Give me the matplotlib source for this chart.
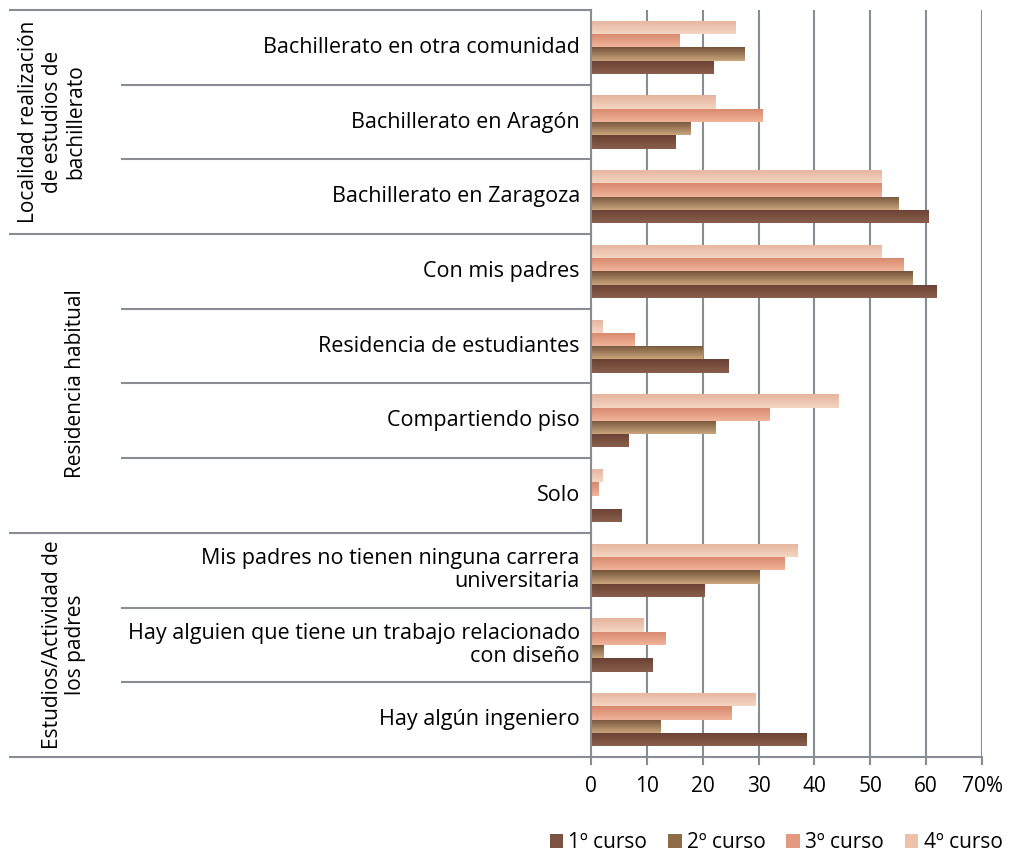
import numpy as np
import matplotlib
matplotlib.use("Agg")
import matplotlib.pyplot as plt
import matplotlib.colors as mcolors
import matplotlib.transforms as mtransforms
from matplotlib.patches import Patch

plt.rcParams['font.family'] = ['Open Sans', 'DejaVu Sans']

# --- Data ---
categories = [
    "Bachillerato en otra comunidad",
    "Bachillerato en Aragón",
    "Bachillerato en Zaragoza",
    "Con mis padres",
    "Residencia de estudiantes",
    "Compartiendo piso",
    "Solo",
    "Mis padres no tienen ninguna carrera\nuniversitaria",
    "Hay alguien que tiene un trabajo relacionado\ncon diseño",
    "Hay algún ingeniero",
]
groups = [
    "Localidad realización\nde estudios de\nbachillerato",
    "Residencia habitual",
    "Estudios/Actividad de\nlos padres",
]
group_sizes = [3, 4, 3]
series_names = ["1º curso", "2º curso", "3º curso", "4º curso"]
curso1 = [22.0, 15.2, 60.4, 61.8, 24.6, 6.8, 5.5, 20.4, 11.0, 38.5]
curso2 = [27.4, 17.8, 55.0, 57.5, 20.0, 22.3, 0.0, 30.1, 2.3, 12.4]
curso3 = [15.8, 30.7, 52.0, 55.9, 7.8, 32.0, 1.3, 34.6, 13.3, 25.2]
curso4 = [25.8, 22.3, 52.0, 52.0, 2.0, 44.3, 2.0, 36.9, 9.4, 29.5]
x_ticks = [0, 10, 20, 30, 40, 50, 60, 70]
x_tick_labels = ["0", "10", "20", "30", "40", "50", "60", "70%"]

# (top colour, bottom colour, legend colour) per series
grads = [
    ("#6a4233", "#8a5e4d", "#7b5343"),
    ("#74553a", "#c9a47c", "#8e6c48"),
    ("#d7876c", "#f0b49a", "#e39a7e"),
    ("#e6b49d", "#f4d5c3", "#ecc2ab"),
]
line_col = "#878d93"
fs_cat = 15.5
fs = 15

W, H = 1014, 852
fig = plt.figure(figsize=(W / 100, H / 100), dpi=100)
ax = fig.add_axes([591 / W, 1 - 757 / H, (982 - 591) / W, (757 - 10) / H])

n = len(categories)
ypos = np.arange(n)[::-1]
bh = 0.178
series = [curso1, curso2, curso3, curso4]

for j, vals in enumerate(series):
    top, bot, base = grads[j]
    bars = ax.barh(ypos + (j - 1.5) * bh, vals, height=bh, color=base,
                   edgecolor='none', zorder=2)
    cmap = mcolors.LinearSegmentedColormap.from_list("g%d" % j, [top, bot])
    grad = np.linspace(0, 1, 32).reshape(-1, 1)
    for b in bars:
        if b.get_width() <= 0:
            continue
        x0, y0 = b.get_x(), b.get_y()
        im = ax.imshow(grad, cmap=cmap, aspect='auto', origin='upper',
                       extent=(x0, x0 + b.get_width(), y0, y0 + b.get_height()),
                       zorder=2.1, interpolation='bilinear')
        im.set_clip_path(b)

ax.set_xlim(0, 70)
ax.set_ylim(-0.5, n - 0.5)
ax.set_xticks(x_ticks)
ax.set_xticklabels(x_tick_labels, fontsize=fs)
ax.set_yticks([])
ax.grid(axis='x', color=line_col, linewidth=1.5, zorder=0)
ax.set_axisbelow(True)
ax.tick_params(axis='x', length=6, width=1.5, color=line_col, pad=8)
for s in ['top', 'right']:
    ax.spines[s].set_visible(False)
for s in ['left', 'bottom']:
    ax.spines[s].set_color(line_col)
    ax.spines[s].set_linewidth(1.5)

# category labels
for y, lab in zip(ypos, categories):
    ax.text(-2.0, y, lab, ha='right', va='center', fontsize=fs_cat,
            linespacing=1.15, clip_on=False)

# separators extending into the label area
trans = mtransforms.blended_transform_factory(fig.transFigure, ax.transData)
bounds = np.cumsum([0] + group_sizes)
for k in range(n + 1):
    yb = n - 0.5 - k
    x_left = 10 / W if k in bounds else 122 / W
    ax.plot([x_left, 591 / W], [yb, yb], color=line_col, linewidth=1.5,
            transform=trans, clip_on=False, zorder=1)

# group labels
for g, lab in enumerate(groups):
    yc = n - 0.5 - (bounds[g] + bounds[g + 1]) / 2
    ax.text(86 / W, yc, lab, rotation=90, ha='right', va='center',
            fontsize=fs, multialignment='center', linespacing=1.15,
            transform=trans, clip_on=False)

handles = [Patch(facecolor=grads[j][2], edgecolor='none') for j in range(4)]
fig.legend(handles, series_names, loc='center', ncol=4,
           bbox_to_anchor=(776 / W, 1 - 843 / H), frameon=False,
           fontsize=fs, handlelength=0.65, handleheight=0.65,
           handletextpad=0.25, columnspacing=1.0)

fig.savefig("out.png", dpi=100, facecolor='white')
